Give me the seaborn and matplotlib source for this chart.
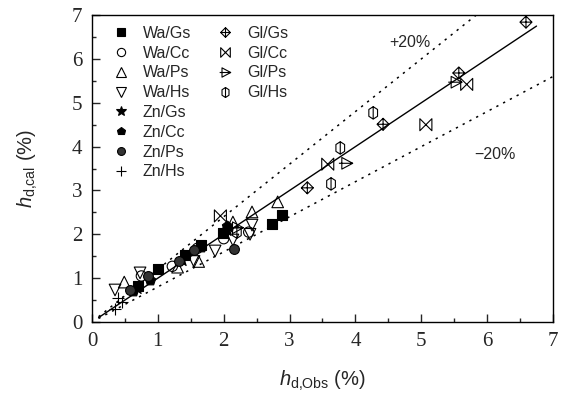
import numpy as np
import matplotlib
matplotlib.use('Agg')
import matplotlib.pyplot as plt
from matplotlib.path import Path
from matplotlib.lines import Line2D
import seaborn as sns

# 관측값(x)과 계산값(y), 계열별
wa_gs_x = [0.70, 1.01, 1.41, 1.65, 1.99, 2.73, 2.89]
wa_gs_y = [0.82, 1.22, 1.52, 1.76, 2.03, 2.23, 2.45]
wa_cc_x = [0.75, 1.22, 1.60, 2.00, 2.38]
wa_cc_y = [1.05, 1.27, 1.68, 1.90, 2.05]
wa_ps_x = [0.49, 1.30, 1.62, 2.14, 2.43, 2.82]
wa_ps_y = [0.91, 1.25, 1.38, 2.28, 2.51, 2.74]
wa_hs_x = [0.35, 0.73, 1.55, 1.87, 2.14, 2.43, 2.40]
wa_hs_y = [0.73, 1.12, 1.38, 1.62, 1.87, 2.21, 2.00]
zn_gs_x = [0.68, 1.37, 2.05]
zn_gs_y = [0.78, 1.42, 2.10]
zn_cc_x = [0.62, 0.88, 1.65, 2.05]
zn_cc_y = [0.70, 0.95, 1.72, 2.18]
zn_ps_x = [0.58, 0.85, 1.32, 1.55, 2.15]
zn_ps_y = [0.73, 1.05, 1.38, 1.65, 1.67]
zn_hs_x = [0.35, 0.45, 0.40]
zn_hs_y = [0.30, 0.45, 0.55]
gl_gs_x = [2.05, 3.27, 4.42, 5.57, 6.59]
gl_gs_y = [2.10, 3.06, 4.51, 5.68, 6.84]
gl_cc_x = [1.95, 3.58, 5.07, 5.69]
gl_cc_y = [2.42, 3.60, 4.50, 5.42]
gl_ps_x = [2.20, 3.86, 5.52]
gl_ps_y = [2.15, 3.62, 5.47]
gl_hs_x = [2.20, 3.63, 3.77, 4.27]
gl_hs_y = [2.05, 3.15, 3.97, 4.77]

# 기준선 (1:1, +20%, -20%)
line_x = [0.1, 6.75]
up_x = [0.1, 7 / 1.2]
lo_x = [0.1, 7.0]

sns.set_style('ticks')
plt.rcParams['font.family'] = ['Liberation Sans', 'DejaVu Sans']
plt.rcParams['mathtext.fontset'] = 'custom'
plt.rcParams['mathtext.rm'] = 'Liberation Sans'
plt.rcParams['mathtext.it'] = 'Liberation Sans:italic'


def mk(verts, codes):
    return Path(np.array(verts, dtype=float), codes)


M, L, C = Path.MOVETO, Path.LINETO, Path.CLOSEPOLY
# 마름모 + 십자
gl_gs_m = mk([(0, 1), (1, 0), (0, -1), (-1, 0), (0, 1), (0, 1), (0, -1), (-1, 0), (1, 0)],
             [M, L, L, L, C, M, L, M, L])
# 나비넥타이 + X
gl_cc_m = mk([(-1, -1), (-1, 1), (1, -1), (1, 1), (-1, -1)],
             [M, L, L, L, C])
# 오른쪽 삼각형 + 가로선
gl_ps_m = mk([(-0.6, 0.8), (0.9, 0), (-0.6, -0.8), (-0.6, 0.8), (-1, 0), (0.9, 0)],
             [M, L, L, C, M, L])
# 육각형 + 세로선
gl_hs_m = mk([(0, 1), (0.7, 0.55), (0.7, -0.55), (0, -1), (-0.7, -0.55), (-0.7, 0.55), (0, 1),
              (0, 1), (0, -1)],
             [M, L, L, L, L, L, C, M, L])

series = [
    ('Wa/Gs', wa_gs_x, wa_gs_y, 's', 'black', 'black', 48),
    ('Wa/Cc', wa_cc_x, wa_cc_y, 'o', 'none', 'black', 55),
    ('Wa/Ps', wa_ps_x, wa_ps_y, '^', 'none', 'black', 70),
    ('Wa/Hs', wa_hs_x, wa_hs_y, 'v', 'none', 'black', 70),
    ('Zn/Gs', zn_gs_x, zn_gs_y, '*', 'black', 'black', 80),
    ('Zn/Cc', zn_cc_x, zn_cc_y, 'p', 'black', 'black', 60),
    ('Zn/Ps', zn_ps_x, zn_ps_y, 'o', '#333333', 'black', 50),
    ('Zn/Hs', zn_hs_x, zn_hs_y, '+', 'black', 'black', 70),
    ('Gl/Gs', gl_gs_x, gl_gs_y, gl_gs_m, 'none', 'black', 75),
    ('Gl/Cc', gl_cc_x, gl_cc_y, gl_cc_m, 'none', 'black', 75),
    ('Gl/Ps', gl_ps_x, gl_ps_y, gl_ps_m, 'none', 'black', 110),
    ('Gl/Hs', gl_hs_x, gl_hs_y, gl_hs_m, 'none', 'black', 80),
]

fig = plt.figure(figsize=(5.66, 3.98), dpi=100)
ax = fig.add_axes([0.1625, 0.191, 0.8145, 0.771])

ax.plot(line_x, line_x, color='black', lw=1.0)
ax.plot(up_x, [1.2 * v for v in up_x], color='black', lw=1.1, ls=(0, (1.5, 3.5)))
ax.plot(lo_x, [0.8 * v for v in lo_x], color='black', lw=1.1, ls=(0, (1.5, 3.5)))

handles = []
for name, xs, ys, m, fc, ec, s in series:
    sns.scatterplot(x=xs, y=ys, marker=m, s=s, facecolor=fc, edgecolor=ec,
                    linewidth=0.8, ax=ax, zorder=3)
    handles.append(Line2D([], [], ls='none', marker=m, markersize=np.sqrt(s) * 0.8,
                          markerfacecolor=fc, markeredgecolor=ec, markeredgewidth=0.8,
                          color=ec, label=name))
blank = [Line2D([], [], ls='none', label='') for _ in range(4)]
ax.legend(handles=handles + blank, ncol=2, frameon=False, loc='upper left',
          bbox_to_anchor=(0.01, 1.012), fontsize=11.5, labelspacing=0.3,
          handletextpad=0.8, columnspacing=1.5, handlelength=1.2)

ax.text(4.83, 6.38, '+20%', fontsize=11.5, ha='center', va='center')
ax.text(6.12, 3.81, '\u221220%', fontsize=11.5, ha='center', va='center')

ax.set_xlim(0, 7)
ax.set_ylim(0, 7)
ax.set_xticks(range(8))
ax.set_yticks(range(8))
ax.set_xticks(np.arange(0.5, 7, 1), minor=True)
ax.set_yticks(np.arange(0.5, 7, 1), minor=True)
ax.tick_params(which='major', direction='in', length=6, width=1, pad=7,
               labelsize=15, labelfontfamily='Liberation Serif')
ax.tick_params(which='minor', direction='in', length=3, width=1)
for sp in ax.spines.values():
    sp.set_linewidth(1.0)
    sp.set_color('black')

ax.set_xlabel(r'$h_{\mathrm{d{,}Obs}}$ (%)', fontsize=14.5, labelpad=13)
ax.set_ylabel(r'$h_{\mathrm{d{,}cal}}$ (%)', fontsize=14.5, labelpad=23)

fig.savefig('out.png', dpi=100)
